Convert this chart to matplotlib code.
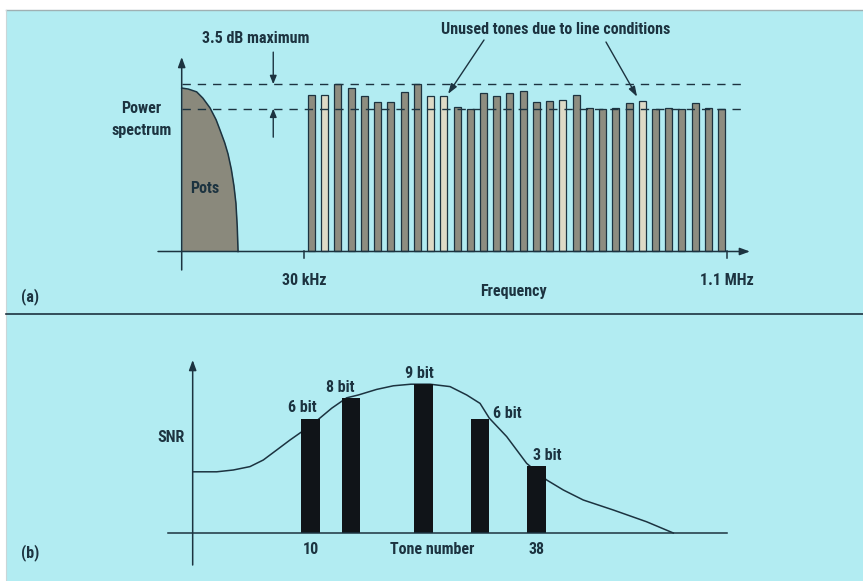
import matplotlib
matplotlib.use("Agg")
import matplotlib.pyplot as plt
import numpy as np
from matplotlib.patches import Rectangle
from matplotlib.lines import Line2D

# ---------------- data ----------------
# (a) transmit power per DMT tone, dB above the floor
tone_power_db = [22.4, 22.4, 24.0, 23.4, 22.3, 21.4, 21.5, 22.9, 24.0, 22.3,
                 22.3, 20.8, 20.5, 22.8, 22.3, 22.8, 23.0, 21.4, 21.6, 21.7,
                 22.4, 20.6, 20.5, 20.6, 21.3, 21.6, 20.5, 20.6, 20.5, 21.3,
                 20.6, 20.5]
# tones left unused because of line conditions (1-based tone slots)
unused_tones = [2, 10, 11, 20, 26]
mask_top_db = 24.0
mask_ripple_db = 3.5

# POTS band outline (frequency in tone spacings, power in dB)
pots_freq = [0.0, 0.5, 1.13, 1.6, 2.14, 2.6, 2.9, 3.25, 3.5, 3.75, 3.95,
             4.1, 4.2, 4.26]
pots_power = [23.45, 23.3, 22.9, 22.0, 20.6, 18.9, 17.4, 15.6, 14.0, 11.8,
              9.4, 6.9, 3.5, 0.0]

freq_tick_labels = ["30 kHz", "1.1 MHz"]

# (b) SNR versus tone number
snr_tone = [-4.52, -1.62, 0.43, 2.50, 4.15, 5.81, 7.46, 8.91, 10.97, 12.63,
            14.49, 15.92, 18.20, 20.26, 22.45, 24.81, 27.29, 29.36, 31.01,
            32.16, 34.31, 36.79, 39.27, 41.33, 43.80, 47.52, 51.66, 54.96]
snr_db = [15.3, 15.3, 15.75, 16.6, 18.25, 20.75, 23.25, 25.3, 28.4, 31.2,
          33.8, 34.5, 35.9, 36.8, 37.2, 37.2, 36.6, 34.5, 32.4, 28.7, 24.1,
          17.4, 13.25, 10.75, 8.25, 5.75, 2.8, 0.0]

loaded_tones = [10, 15, 24, 31, 38]
loaded_snr = [28.5, 33.8, 37.3, 28.5, 16.8]
loaded_bits = [6, 8, 9, 6, 3]
tone_tick_labels = ["10", "38"]

# ---------------- style ----------------
W, H = 863, 581
BG = "#b2ecf2"
INK = "#1c3340"
DARK_BAR = "#8e8d80"
LIGHT_BAR = "#dedac6"
POTS = "#8a897c"
FONT = ["Roboto Condensed", "Archivo Narrow", "DejaVu Sans"]
plt.rcParams["font.family"] = FONT

fig = plt.figure(figsize=(W / 100, H / 100), dpi=100)
fig.patch.set_facecolor("white")
fig.add_artist(Rectangle((6 / W, 0), (W - 6) / W, (H - 10) / H,
                         transform=fig.transFigure, facecolor=BG,
                         edgecolor="none", zorder=0))
fig.add_artist(Line2D([6 / W, 1], [1 - 10 / H] * 2, transform=fig.transFigure,
                      color="#9fb0b3", lw=1.0))
fig.add_artist(Line2D([6 / W] * 2, [0, 1 - 10 / H], transform=fig.transFigure,
                      color="#c9d6d8", lw=0.8))
# divider between the two panels
fig.add_artist(Line2D([6 / W, 1], [1 - 314 / H] * 2, transform=fig.transFigure,
                      color=INK, lw=1.2))

txt = dict(color=INK, fontweight="bold", family=FONT)
FS = 11.5


def arrow(ax, start, end, lw=1.1, hl=0.6, hw=0.22):
    ax.annotate("", xy=end, xytext=start, annotation_clip=False,
                arrowprops=dict(arrowstyle=f"-|>,head_length={hl},head_width={hw}",
                                lw=lw, color=INK, shrinkA=0, shrinkB=0))


# ---------------- (a) power spectrum ----------------
ax1 = fig.add_axes([0, 1 - 314 / H, 1, (314 - 10) / H])
ax1.set_xlim(-13.734, 51.496)
ax1.set_ylim(-8.966, 34.643)
ax1.axis("off")

n_tones = len(tone_power_db)
tone_slot = np.arange(1, n_tones + 1)
tone_x = 8.81 + tone_slot
colors = [LIGHT_BAR if t in unused_tones else DARK_BAR for t in tone_slot]
ax1.bar(tone_x, tone_power_db, width=0.53, color=colors, edgecolor=INK,
        linewidth=0.9, zorder=3)

ax1.fill_between(pots_freq, pots_power, 0, color=POTS, zorder=2, lw=0)
ax1.plot(pots_freq, pots_power, color=INK, lw=1.1, zorder=3)

# axes with arrowheads
arrow(ax1, (0, -2.65), (0, 27.9))
arrow(ax1, (-1.79, 0), (42.95, 0))
freq_tick_x = [9.24, 41.2]
for x in freq_tick_x:
    ax1.plot([x, x], [0, -1.0], color=INK, lw=1.1, zorder=4)

# spectral mask
mask_levels = [mask_top_db, mask_top_db - mask_ripple_db]
ax1.hlines(mask_levels, 0, 42.6, colors=INK, linestyles=(0, (6, 5)),
           lw=1.0, zorder=5)
arrow(ax1, (6.92, 28.6), (6.92, mask_levels[0]), lw=1.0, hl=0.5, hw=0.2)
arrow(ax1, (6.92, 16.4), (6.92, mask_levels[1]), lw=1.0, hl=0.5, hw=0.2)

ax1.text(5.6, 30.5, f"{mask_ripple_db} dB maximum", ha="center", va="center",
         fontsize=FS, **txt)
ax1.text(28.3, 31.9, "Unused tones due to line conditions", ha="center",
         va="center", fontsize=FS, **txt)
arrow(ax1, (22.85, 30.34), (20.13, 22.6), lw=1.0, hl=0.6, hw=0.2)
arrow(ax1, (32.07, 30.05), (34.42, 22.2), lw=1.0, hl=0.6, hw=0.2)

ax1.text(-3.05, 18.9, "Power\nspectrum", ha="center", va="center",
         fontsize=FS, linespacing=1.55, **txt)
ax1.text(1.76, 9.1, "Pots", ha="center", va="center", fontsize=FS, **txt)
for x, lab in zip(freq_tick_x, freq_tick_labels):
    ax1.text(x, -4.1, lab, ha="center", va="center", fontsize=FS, **txt)
ax1.text(25.05, -5.67, "Frequency", ha="center", va="center", fontsize=FS, **txt)
ax1.text(-11.47, -6.4, "(a)", ha="center", va="center", fontsize=FS, **txt)

# ---------------- (b) SNR and bit loading ----------------
ax2 = fig.add_axes([0, 0, 1, (581 - 316) / H])
ax2.set_xlim(-28.476, 78.463)
ax2.set_ylim(-12, 54.25)
ax2.axis("off")

ax2.plot(snr_tone, snr_db, color=INK, lw=1.1, zorder=2)
ax2.bar(loaded_tones, loaded_snr, width=2.25, color="#101418", lw=0, zorder=3)

arrow(ax2, (-4.6, -8.0), (-4.6, 43.25))
ax2.plot([-7.66, 61.6], [0, 0], color=INK, lw=1.1, zorder=4)

bit_label_pos = [(8.95, 31.5), (13.66, 36.5), (23.44, 40.0), (34.35, 30.0),
                 (39.3, 19.5)]
for (x, y), b in zip(bit_label_pos, loaded_bits):
    ax2.text(x, y, f"{b} bit", ha="center", va="center", fontsize=FS, **txt)

ax2.text(-7.3, 24.0, "SNR", ha="center", va="center", fontsize=FS, **txt)
for x, lab in zip([loaded_tones[0], loaded_tones[-1]], tone_tick_labels):
    ax2.text(x, -4.0, lab, ha="center", va="center", fontsize=FS, **txt)
ax2.text(25.06, -4.0, "Tone number", ha="center", va="center", fontsize=FS, **txt)
ax2.text(-24.76, -5.0, "(b)", ha="center", va="center", fontsize=FS, **txt)

fig.savefig("out.png", dpi=100, facecolor=fig.get_facecolor())
